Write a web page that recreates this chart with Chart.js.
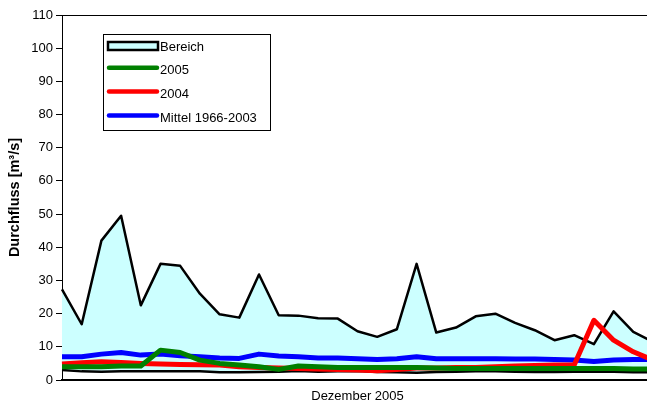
<!DOCTYPE html>
<html>
<head>
<meta charset="utf-8">
<script src="https://cdn.jsdelivr.net/npm/chart.js@4/dist/chart.umd.min.js"></script>
<style>
  html, body { margin: 0; padding: 0; background: #fff; overflow: hidden; }
  #wrap { width: 660px; height: 410px; }
</style>
</head>
<body>
<div id="wrap"><canvas id="myChart" width="660" height="410"></canvas></div>
<script>
const days = ["1", "2", "3", "4", "5", "6", "7", "8", "9", "10", "11", "12", "13", "14", "15", "16",
  "17", "18", "19", "20", "21", "22", "23", "24", "25", "26", "27", "28", "29", "30", "31"];

// Bereich (min / max 1966-2003)
const maxQ = [27.3, 16.8, 42, 49.5, 22.5, 35, 34.4, 26, 19.8, 18.8, 31.8, 19.5, 19.4, 18.6, 18.5, 14.7,
  13.0, 15.3, 35.0, 14.3, 15.8, 19.2, 20.0, 17.2, 15.0, 12.0, 13.5, 10.8, 20.7, 14.5, 11.5];
const minQ = [3.0, 2.6, 2.5, 2.6, 2.6, 2.6, 2.6, 2.6, 2.3, 2.3, 2.4, 2.5, 2.7, 2.5, 2.6, 2.7,
  2.4, 2.3, 2.2, 2.4, 2.5, 2.6, 2.6, 2.5, 2.4, 2.4, 2.5, 2.5, 2.5, 2.3, 2.3];

const q2005 = [4.0, 4.0, 4.0, 4.2, 4.2, 9.0, 8.3, 6.0, 5.0, 4.5, 4.0, 3.2, 4.2, 4.0, 3.8, 3.8,
  3.8, 3.8, 3.8, 3.6, 3.5, 3.5, 3.5, 3.5, 3.5, 3.5, 3.5, 3.5, 3.5, 3.3, 3.3];
const q2004 = [4.8, 5.2, 5.5, 5.3, 5.0, 4.8, 4.7, 4.6, 4.5, 4.0, 3.8, 3.6, 3.5, 3.3, 3.2, 3.0,
  2.8, 3.2, 3.6, 3.6, 3.8, 3.8, 4.0, 4.2, 4.4, 4.5, 4.5, 18.0, 12.0, 8.5, 6.0];
const mittel = [7.0, 7.0, 7.8, 8.3, 7.5, 7.8, 7.3, 7.0, 6.6, 6.5, 7.8, 7.2, 7.0, 6.6, 6.6, 6.4,
  6.2, 6.4, 7.0, 6.4, 6.4, 6.4, 6.4, 6.3, 6.3, 6.2, 6.0, 5.6, 6.0, 6.2, 6.2];

const yTicks = [0, 10, 20, 30, 40, 50, 60, 70, 80, 90, 100, 110];

const font = "Liberation Sans, Arial, sans-serif";

const data = {
  labels: days,
  datasets: [
    { label: "min", data: minQ, borderColor: "#000", borderWidth: 2.5, fill: false, order: 3 },
    { label: "Bereich", data: maxQ, borderColor: "#000", borderWidth: 2.5,
      backgroundColor: "#ccffff", fill: 0, order: 4 },
    { label: "Mittel 1966-2003", data: mittel, borderColor: "#0000ff", borderWidth: 5, order: 2 },
    { label: "2004", data: q2004, borderColor: "#ff0000", borderWidth: 5, order: 1 },
    { label: "2005", data: q2005, borderColor: "#008000", borderWidth: 5, order: 0 },
  ],
};

// legend box inside the plot, like the original
const boxLegend = {
  id: "boxLegend",
  afterDraw(chart) {
    const c = chart.ctx;
    const ds = chart.data.datasets;
    const items = [ds[1], ds[4], ds[3], ds[2]];
    c.save();
    c.fillStyle = "#fff";
    c.fillRect(103.5, 34.5, 167, 96);
    c.strokeStyle = "#000";
    c.lineWidth = 1;
    c.strokeRect(103.5, 34.5, 167, 96);
    c.font = "13px " + font;
    c.textBaseline = "middle";
    items.forEach((d, i) => {
      const y = 46 + i * 23.8;
      if (i === 0) {
        c.fillStyle = d.backgroundColor;
        c.fillRect(108, y - 4, 50, 8);
        c.lineWidth = 2.5;
        c.strokeRect(108, y - 4, 50, 8);
      } else {
        c.strokeStyle = d.borderColor;
        c.lineWidth = 4.5;
        c.lineCap = "round";
        c.beginPath();
        c.moveTo(109, y - 2);
        c.lineTo(157, y - 2);
        c.stroke();
        c.strokeStyle = "#000";
      }
      c.fillStyle = "#000";
      c.fillText(d.label, 160, y + 1);
    });
    c.restore();
  },
};

const config = {
  type: "line",
  data: data,
  options: {
    responsive: false,
    animation: false,
    layout: { padding: { top: 15, right: 7, left: 0, bottom: 0 } },
    elements: { point: { radius: 0 }, line: { tension: 0, borderJoinStyle: "round" } },
    plugins: { legend: { display: false }, tooltip: { enabled: false } },
    scales: {
      x: {
        offset: false,
        grid: { display: false },
        border: { color: "#000", width: 2 },
        ticks: { display: false },
        title: { display: true, text: "Dezember 2005", color: "#000",
          font: { family: font, size: 13 }, padding: { top: 4, bottom: 6 } },
        afterFit: (s) => { s.height = 30; },
      },
      y: {
        min: 0,
        max: 110,
        afterBuildTicks: (s) => { s.ticks = yTicks.map((v) => ({ value: v })); },
        grid: {
          color: (ctx) => (ctx.tick && ctx.tick.value === 110 ? "#000" : "rgba(0,0,0,0)"),
          tickColor: "#000",
          tickLength: 6,
          lineWidth: 1,
        },
        border: { color: "#000", width: 1 },
        ticks: { color: "#000", font: { family: font, size: 13 }, padding: 3 },
        title: { display: true, text: "Durchfluss [m³/s]", color: "#000",
          font: { family: font, size: 14.5, weight: "bold" }, padding: { top: 6, bottom: 4 } },
        afterFit: (s) => { s.width = 62; },
      },
    },
  },
  plugins: [boxLegend],
};

let myChart = new Chart(document.getElementById("myChart"), config);
</script>
</body>
</html>
